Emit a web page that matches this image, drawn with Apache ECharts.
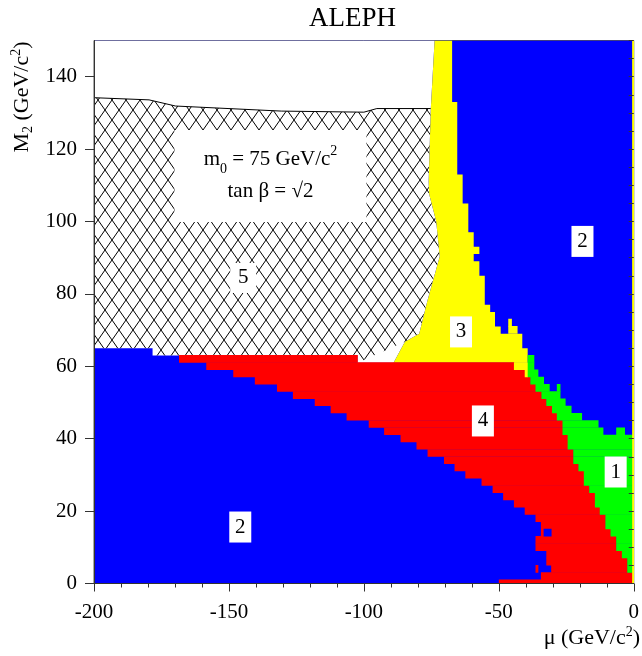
<!DOCTYPE html>
<html><head><meta charset="utf-8">
<script src="https://cdn.jsdelivr.net/npm/echarts@6/dist/echarts.min.js"></script>
<style>html,body{margin:0;padding:0;background:#fff}#c{width:642px;height:656px}</style>
</head><body><div id="c"></div>
<script>
// ---------- data (mu in GeV/c2, M2 in GeV/c2) ----------
const xTicks = [-200, -150, -100, -50, 0];
const yTicks = [0, 20, 40, 60, 80, 100, 120, 140];

// horizontal bands of the scan grid (bottom part, y from 0 to 61)
const rowEdges = [0,1,3,5,7,9,11,13,15,17,19,21,23,25,27,29,31,33,35,37,39,41,43,45,47,49,51,53,55,57,59,61];
// region 2 (lower left, blue) ends / region 4 (red) starts
const redStart = [-50,-34.4,-30.6,-32.4,-32.4,-36.4,-36.4,-34.4,-34.4,-36.4,-40.4,-44.4,-48.4,-52.3,-56.4,-62.4,-66.4,-70.3,-76.4,-80.5,-86.4,-92.5,-98.2,-106.4,-112.3,-118.2,-126.3,-132.2,-140.4,-148.4,-158.4];
// region 4 (red) ends
const redEnd = [-0.6,-0.6,-2.4,-2.4,-4.4,-6.5,-6.5,-8.6,-10.5,-10.5,-12.6,-14.4,-14.4,-16.5,-18.5,-18.5,-20.5,-22.4,-22.4,-24.5,-24.5,-26.4,-26.4,-28.5,-30.3,-32.4,-34.2,-36.4,-38.3,-40.4,-44.4];
// region 3 (yellow) ends where it sits between red and green
const yellowEnd = [-0.6,-0.6,-2.4,-2.4,-4.4,-6.5,-6.5,-8.6,-10.5,-10.5,-12.6,-14.4,-14.4,-16.5,-18.5,-18.5,-20.5,-22.4,-22.4,-24.5,-24.5,-26.4,-26.4,-28.5,-30.3,-32.4,-34.2,-36.4,-38.3,-39.3,-39.3];
// region 1 (green) ends, region 2 (blue) follows up to mu = 0
const greenEnd = [-0.6,-0.6,-0.6,-0.6,-0.6,-0.6,-0.6,-0.6,-0.6,-0.6,-0.6,-0.6,-0.6,-0.6,-0.6,-0.6,-0.6,-0.6,-0.6,-0.6,-0.6,-11.4,-13.2,-19.3,-23.2,-25.4,-27.3,-31.3,-33.4,-35.5,-37.0];

// isolated cells: region 0=blue(2) 1=red(4) 2=green(1) 3=yellow(3)
const patchX0 = [-168.5, -39.3, -33.4, -36.4, -46.5, -46.5, -6.5, -28.5, -0.6];
const patchX1 = [-102.4, -37.0, -30.6, -35.5, -43.2, -45.3, -3.4, -27.3, 0];
const patchY0 = [61, 61, 13, 3, 69, 71, 41, 53, 0];
const patchY1 = [63, 63, 15, 5, 71, 73, 43, 55, 150];
const patchKind = [1, 2, 0, 1, 3, 3, 2, 2, 3];

// region 3 (yellow) upper part: left edge (bottom -> top)
const yellowLeft = [[-89,61],[-84.8,66.8],[-79.5,69],[-76.5,78],[-71.9,90.3],[-73.2,100],[-75.8,107.5],[-76,111],[-75.2,131.2],[-73.8,150]];
// right staircase edge
const yellowEdgeY = [150,133,113,105,97,93,91,89,85,77,75,71,69,65,61];
const yellowEdgeX = [-67.3,-65.4,-63.4,-61.3,-59.3,-57.2,-59.3,-57.2,-55.2,-53.2,-51.4,-49.3,-41.3,-39.3];

// lower edge of the excluded area (top of regions 2/4), left -> right
const excludedBottom = [[-200,65],[-178.3,65],[-178.3,63],[-102.4,63],[-102.4,61]];
// upper limit of hatched region 5, right -> left
const hatchTop = [[-75.2,131.2],[-95.2,131.2],[-100,130.2],[-130.6,130.5],[-169.8,131.9],[-179.6,133.6],[-200,134.2]];

// region labels
const labelText = ['1','2','2','3','4','5'];
const labelX = [-6.7, -19.0, -145.8, -64.0, -55.9, -144.7];
const labelY = [30.8, 94.5, 15.6, 69.5, 44.9, 84.4];
// parameter box
const infoX = -134.6, infoY = 112.6;

// ---------- chart ----------
const SERIF = "'Liberation Serif','Times New Roman',serif";
const colors = ['#0000ff', '#ff0000', '#00ff00', '#ffff00'];

function hatchPattern() {
  const c = document.createElement('canvas');
  c.width = 14; c.height = 20;
  const g = c.getContext('2d');
  g.strokeStyle = '#000'; g.lineWidth = 1;
  g.beginPath(); g.moveTo(0, 0); g.lineTo(14, 20); g.moveTo(14, 0); g.lineTo(0, 20); g.stroke();
  return c;
}

function polySeries(points, style, z, isLine) {
  return {
    type: 'custom', coordinateSystem: 'cartesian2d', clip: true, silent: true, z: z,
    data: [[points[0][0], points[0][1]]],
    renderItem: function (params, api) {
      const pts = points.map(function (p) { return api.coord(p); });
      return { type: isLine ? 'polyline' : 'polygon', shape: { points: pts }, style: style };
    }
  };
}

// polygons
const whitePoly = excludedBottom.concat(yellowLeft).concat([[-200,150]]);
const hatchPoly = excludedBottom.concat(yellowLeft.filter(function (p) { return p[1] <= 131.2 && p[1] > 61; })).concat(hatchTop);
const yellowPoly = yellowLeft.slice();
for (let i = 0; i < yellowEdgeX.length; i++) {
  yellowPoly.push([yellowEdgeX[i], yellowEdgeY[i]]);
  yellowPoly.push([yellowEdgeX[i], yellowEdgeY[i + 1]]);
}

// cells
const cells = [];
for (let i = 0; i < redStart.length; i++) {
  const y0 = rowEdges[i], y1 = rowEdges[i + 1];
  cells.push([redStart[i], redEnd[i], y0, y1, 1]);
  if (yellowEnd[i] > redEnd[i]) cells.push([redEnd[i], yellowEnd[i], y0, y1, 3]);
  if (greenEnd[i] > yellowEnd[i]) cells.push([yellowEnd[i], greenEnd[i], y0, y1, 2]);
}
for (let i = 0; i < patchKind.length; i++) {
  cells.push([patchX0[i], patchX1[i], patchY0[i], patchY1[i], patchKind[i]]);
}

const chart = echarts.init(document.getElementById('c'), null, { renderer: 'canvas' });
chart.setOption({
  animation: false,
  backgroundColor: '#fff',
  title: {
    text: 'ALEPH', left: 304, top: 0,
    textStyle: { fontFamily: SERIF, fontSize: 27, fontWeight: 'normal', color: '#000' }
  },
  grid: { left: 94, right: 3, top: 40.5, bottom: 72.5, show: true, borderColor: '#555', borderWidth: 1, backgroundColor: 'transparent' },
  xAxis: {
    type: 'value', min: -200, max: 0, interval: 50, z: 5,
    axisLine: { show: true, onZero: false, lineStyle: { color: '#333', width: 1 } },
    axisTick: { show: true, inside: false, length: 8, lineStyle: { color: '#333' } },
    minorTick: { show: true, splitNumber: 5, length: 4, lineStyle: { color: '#333' } },
    splitLine: { show: false },
    axisLabel: { margin: 18, fontFamily: SERIF, fontSize: 21, color: '#000',
      customValues: xTicks, formatter: function (v) { return String(v); } }
  },
  yAxis: [{
    type: 'value', min: 0, max: 150, interval: 20, z: 5,
    axisLine: { show: true, onZero: false, lineStyle: { color: '#333', width: 1 } },
    axisTick: { show: true, inside: false, length: 9, customValues: yTicks, lineStyle: { color: '#333' } },
    splitLine: { show: false },
    axisLabel: { margin: 17, fontFamily: SERIF, fontSize: 21, color: '#000', customValues: yTicks }
  }, {
    type: 'value', min: 0, max: 150, interval: 5, position: 'left', z: 5,
    axisLine: { show: false },
    axisTick: { show: true, inside: false, length: 5, lineStyle: { color: '#333' } },
    splitLine: { show: false },
    axisLabel: { show: false }
  }],
  graphic: [{
    type: 'text', x: 22, y: 97, rotation: Math.PI / 2, z: 100,
    style: {
      text: '{a|M}{sub|2}{a| (GeV/c}{sup|2}{a|)}', align: 'center', verticalAlign: 'middle',
      rich: {
        a: { fontFamily: SERIF, fontSize: 22, fill: '#000', lineHeight: 26 },
        sub: { fontFamily: SERIF, fontSize: 14, fill: '#000', lineHeight: 26, verticalAlign: 'bottom' },
        sup: { fontFamily: SERIF, fontSize: 14, fill: '#000', lineHeight: 26, verticalAlign: 'top' }
      }
    }
  }, {
    type: 'text', x: 640, y: 638, z: 100,
    style: {
      text: '{a|\u03bc (GeV/c}{sup|2}{a|)}', align: 'right', verticalAlign: 'middle',
      rich: {
        a: { fontFamily: SERIF, fontSize: 22, fill: '#000', lineHeight: 26 },
        sup: { fontFamily: SERIF, fontSize: 14, fill: '#000', lineHeight: 26, verticalAlign: 'top' }
      }
    }
  }],
  series: [
    polySeries([[-200,0],[0,0],[0,150],[-200,150]], { fill: colors[0] }, 1),
    polySeries(whitePoly, { fill: '#fff' }, 2),
    polySeries(hatchPoly, { fill: { image: hatchPattern(), repeat: 'repeat' } }, 3),
    polySeries(hatchTop, { stroke: '#000', lineWidth: 1, fill: null }, 4, true),
    polySeries(yellowPoly, { fill: colors[3] }, 4),
    {
      type: 'custom', coordinateSystem: 'cartesian2d', clip: true, silent: true, z: 5,
      data: cells,
      renderItem: function (params, api) {
        const a = api.coord([api.value(0), api.value(3)]);
        const b = api.coord([api.value(1), api.value(2)]);
        return { type: 'rect', shape: { x: a[0], y: a[1] - 0.4, width: b[0] - a[0] + 0.4, height: b[1] - a[1] + 0.4 },
          style: { fill: colors[api.value(4)] } };
      }
    },
    {
      type: 'scatter', z: 10, silent: true,
      data: labelText.map(function (t, i) { return { name: t, value: [labelX[i], labelY[i]] }; }),
      symbol: 'rect',
      symbolSize: function (v, p) { return p.name === '5' ? [26, 30] : [22, 31]; },
      itemStyle: { color: '#fff', opacity: 1 },
      label: { show: true, position: 'inside', formatter: '{b}', color: '#000', fontFamily: SERIF, fontSize: 21 }
    },
    {
      type: 'scatter', z: 10, silent: true,
      data: [{ name: 'info', value: [infoX, infoY] }],
      symbol: 'rect', symbolSize: [192, 92],
      itemStyle: { color: '#fff', opacity: 1 },
      label: {
        show: true, position: 'inside', align: 'center', verticalAlign: 'middle',
        formatter: '{a|m}{sub|0}{a| = 75 GeV/c}{sup|2}\n{a|tan \u03b2 = \u221a2}',
        rich: {
          a: { fontFamily: SERIF, fontSize: 21, color: '#000', lineHeight: 32 },
          sub: { fontFamily: SERIF, fontSize: 14, color: '#000', lineHeight: 32, verticalAlign: 'bottom' },
          sup: { fontFamily: SERIF, fontSize: 14, color: '#000', lineHeight: 32, verticalAlign: 'top' }
        }
      }
    }
  ]
});
</script></body></html>
